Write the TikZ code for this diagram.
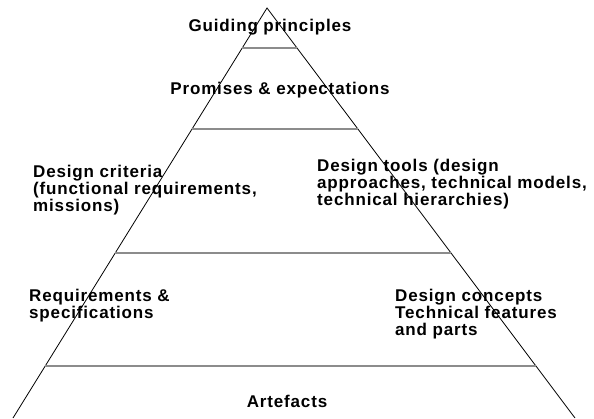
\documentclass[tikz,border=0pt]{standalone}
\usepackage{fontspec}
\setmainfont{Liberation Sans}[LetterSpace=5]
\usetikzlibrary{calc}
\begin{document}
\begin{tikzpicture}[x=1pt,y=-1pt,
  side/.style={draw=black,line width=0.8pt},
  level/.style={draw=gray!90,line width=1.6pt},
  lbl/.style={inner sep=0pt,font=\bfseries\fontsize{17}{17}\selectfont,align=left,text=black}]
\useasboundingbox (0,0) rectangle (594,418);
\coordinate (A) at (267,8);
\coordinate (L) at (13,418);
\coordinate (R) at (575,418);
\draw[side] (L) -- (A) -- (R);
\foreach \t/\n in {0.0976/1,0.2951/2,0.5976/3,0.8732/4}{
  \coordinate (l\n) at ($(A)!\t!(L)$);
  \coordinate (r\n) at ($(A)!\t!(R)$);
  \draw[level] (l\n) -- (r\n);
}
\node[lbl,anchor=base] (gp) at (270,31) {Guiding principles};
\node[lbl,anchor=base] (pe) at (280,94) {Promises \& expectations};
\node[lbl,anchor=north west] (dc) at (33,165) {Design criteria\\(functional requirements,\\missions)};
\node[lbl,anchor=north west] (dt) at (317,159) {Design tools (design\\approaches, technical models,\\technical hierarchies)};
\node[lbl,anchor=north west] (rs) at (29,289) {Requirements \&\\specifications};
\node[lbl,anchor=north west] (dcp) at (395,289) {Design concepts\\Technical features\\and parts};
\node[lbl,anchor=base] (art) at (287,407) {Artefacts};
\end{tikzpicture}
\end{document}
